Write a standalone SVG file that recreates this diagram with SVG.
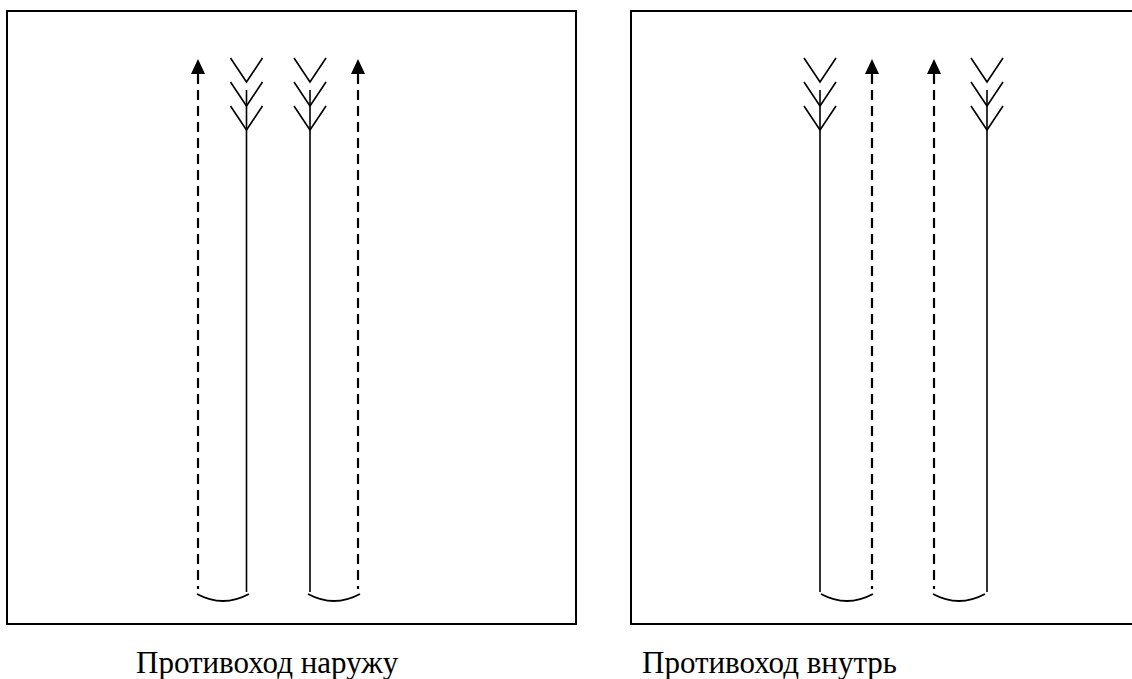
<svg xmlns="http://www.w3.org/2000/svg" width="1132" height="679" viewBox="0 0 1132 679">
<style>
.frame{fill:none;stroke:#000;stroke-width:2}
.solid{fill:none;stroke:#000;stroke-width:1.6}
.dash{fill:none;stroke:#000;stroke-width:2.2;stroke-dasharray:10,6}
.head{fill:#000}
.arc{fill:none;stroke:#000;stroke-width:1.8}
.lbl{font-family:"Liberation Serif","Times New Roman",serif;font-size:31px;fill:#000}
</style>
<defs>
<path id="feather" class="solid" d="M-16,-72 L0,-48 L16,-72 M-16,-48 L0,-24 L16,-48 M-16,-24 L0,0 L16,-24"/>
<path id="tri" class="head" d="M0,0 L-7,15 L7,15 Z"/>
</defs>
<rect class="frame" x="7" y="11" width="569" height="613"/>
<rect class="frame" x="631" y="11" width="510" height="613"/>
<g id="connectors">
<!-- left panel -->
<line class="dash" x1="198" y1="74" x2="198" y2="589"/>
<use href="#tri" x="198" y="59"/>
<line class="solid" x1="246.5" y1="90" x2="246.5" y2="592"/>
<use href="#feather" x="246.5" y="130"/>
<line class="solid" x1="310" y1="90" x2="310" y2="592"/>
<use href="#feather" x="310" y="130"/>
<line class="dash" x1="358" y1="74" x2="358" y2="589"/>
<use href="#tri" x="358" y="59"/>
<path class="arc" d="M197,594 Q223,608 249,594"/>
<path class="arc" d="M308,594 Q334,608 360,594"/>
<!-- right panel -->
<line class="solid" x1="820" y1="90" x2="820" y2="592"/>
<use href="#feather" x="820" y="130"/>
<line class="dash" x1="872" y1="74" x2="872" y2="589"/>
<use href="#tri" x="872" y="59"/>
<line class="dash" x1="934" y1="74" x2="934" y2="589"/>
<use href="#tri" x="934" y="59"/>
<line class="solid" x1="987" y1="90" x2="987" y2="592"/>
<use href="#feather" x="987" y="130"/>
<path class="arc" d="M821,594 Q847,608 873,594"/>
<path class="arc" d="M933,594 Q959,608 985,594"/>
</g>
<g id="label-left"><text class="lbl" x="136" y="673">Противоход наружу</text></g>
<g id="label-right"><text class="lbl" x="642" y="673">Противоход внутрь</text></g>
</svg>
